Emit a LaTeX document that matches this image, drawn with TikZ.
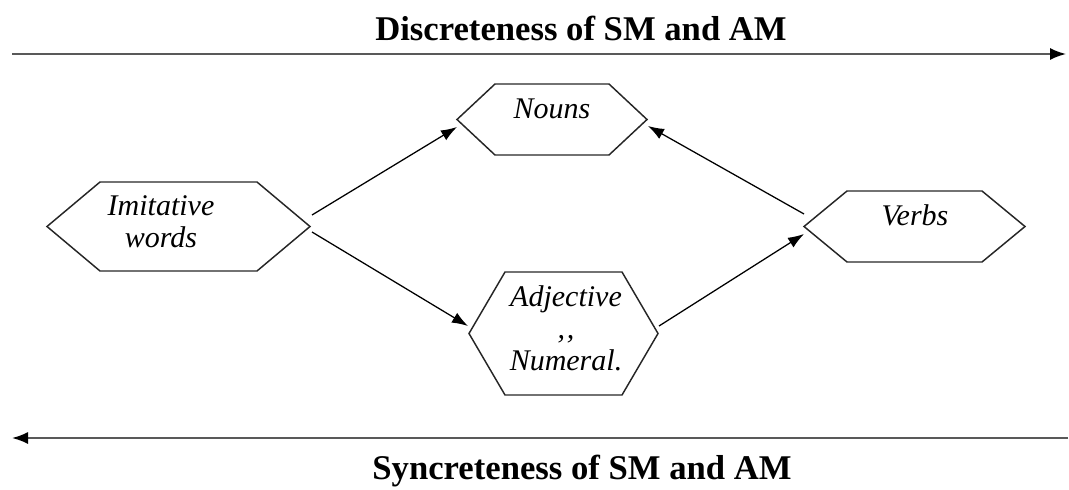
\documentclass[tikz,border=0pt]{standalone}
\usepackage{fontspec}
\setmainfont{Liberation Serif}
\usetikzlibrary{calc,arrows.meta}
\begin{document}
\begin{tikzpicture}[x=0.75pt,y=-0.75pt,
  hexn/.style={draw=none,inner sep=0pt,outer sep=0pt},
  hexline/.style={draw=black!85,line width=1.1pt,line join=miter},
  lbl/.style={inner sep=0pt,align=center,font=\fontsize{22.5}{24}\selectfont\itshape},
  ttl/.style={inner sep=0pt,font=\fontsize{26}{30}\selectfont\bfseries},
  conn/.style={draw=black,line width=0.95pt,-{Latex[length=12pt,width=8.5pt]}},
  axis/.style={draw=black!65,line width=1.3pt,-{Latex[length=12pt,width=9pt,black]}}]
\useasboundingbox (0,0) rectangle (1069,489);

% titles
\node[ttl] (t1) at (581,28) {Discreteness of SM and AM};
\node[ttl] (t2) at (582,471) {Syncreteness of SM and AM};

% axis arrows
\coordinate (al) at (12,54);
\coordinate (ar) at (1066,54);
\coordinate (bl) at (12,438);
\coordinate (br) at (1068,438);
\draw[axis] (al) -- (ar);
\draw[axis] (br) -- (bl);

% hexagons
\node[hexn,minimum width=197.25pt,minimum height=66.75pt] (im) at (178.5,226.5) {};
\draw[hexline] (im.west) -- ($(im.north west)+(53,0)$) -- ($(im.north east)+(-53,0)$) -- (im.east) -- ($(im.south east)+(-53,0)$) -- ($(im.south west)+(53,0)$) -- cycle;

\node[hexn,minimum width=142.5pt,minimum height=53.25pt] (no) at (552,119.5) {};
\draw[hexline] (no.west) -- ($(no.north west)+(38,0)$) -- ($(no.north east)+(-38,0)$) -- (no.east) -- ($(no.south east)+(-38,0)$) -- ($(no.south west)+(38,0)$) -- cycle;

\node[hexn,minimum width=165.75pt,minimum height=53.25pt] (ve) at (914.5,226.5) {};
\draw[hexline] (ve.west) -- ($(ve.north west)+(43,0)$) -- ($(ve.north east)+(-43,0)$) -- (ve.east) -- ($(ve.south east)+(-43,0)$) -- ($(ve.south west)+(43,0)$) -- cycle;

\node[hexn,minimum width=141.75pt,minimum height=92.25pt] (ad) at (563.5,333.5) {};
\draw[hexline] (ad.west) -- ($(ad.north west)+(36,0)$) -- ($(ad.north east)+(-36,0)$) -- (ad.east) -- ($(ad.south east)+(-36,0)$) -- ($(ad.south west)+(36,0)$) -- cycle;

% labels
\node[lbl] (imT) at (161,222) {Imitative\\words};
\node[lbl] (noT) at (552,109) {Nouns};
\node[lbl] (veT) at (915,215) {Verbs};
\node[lbl] (adT) at (566,328) {Adjective\\{,}\kern1.5pt{,}\\Numeral.};

% connectors
\draw[conn] ($(im.east)+(2,-11.5)$) -- ($(no.west)+(0,7.5)$);
\draw[conn] ($(im.east)+(2,5.5)$) -- ($(ad.west)+(-1,-7.5)$);
\draw[conn] ($(ad.east)+(1,-7.5)$) -- ($(ve.west)+(0,7.5)$);
\draw[conn] ($(ve.west)+(0,-12.5)$) -- ($(no.east)+(1,6.5)$);
\end{tikzpicture}
\end{document}
